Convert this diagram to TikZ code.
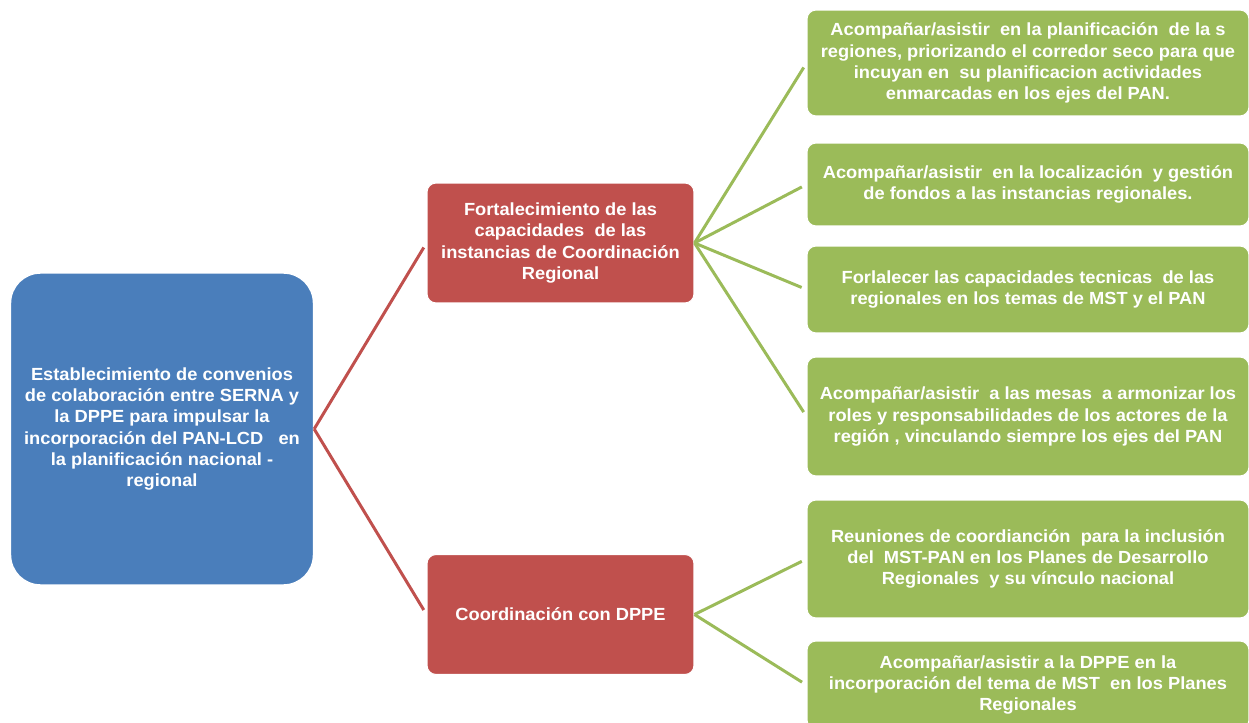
\documentclass[tikz,border=0pt]{standalone}
\usepackage{fontspec}
\setmainfont{Liberation Sans}[FakeStretch=1.04]
\definecolor{cGOAL}{HTML}{4A7EBB}
\definecolor{cLINE}{HTML}{C0504D}
\definecolor{cACT}{HTML}{9BBB59}
\tikzset{
  goalbox/.style={
    fill=cGOAL, draw=white, line width=0.8pt,
    rounded corners=0.6cm,
    text=white, align=center,
    minimum width=6.06cm, minimum height=6.24cm,
    font=\fontsize{10}{12}\selectfont\bfseries
  },
  linebox/.style={
    fill=cLINE, draw=white, line width=0.6pt,
    rounded corners=0.18cm,
    text=white, align=center,
    minimum width=5.34cm, minimum height=2.4cm,
    font=\fontsize{10}{12}\selectfont\bfseries
  },
  actbox/.style={
    fill=cACT, draw=white, line width=0.6pt,
    rounded corners=0.18cm,
    text=white, align=center,
    minimum width=8.84cm,
    font=\fontsize{10}{12}\selectfont\bfseries
  },
  redlink/.style={draw=cLINE, line width=1.7pt, shorten >=3pt},
  greenlink/.style={draw=cACT, line width=1.7pt, shorten >=3pt}
}

\begin{document}
\begin{tikzpicture}[x=0.02cm, y=-0.02cm]
  \useasboundingbox (0,0) rectangle (1249,723);

  \node[goalbox] (goal) at (162,429) {Establecimiento de convenios\\de colaboración entre SERNA y\\la DPPE para impulsar la\\incorporación del PAN-LCD\ \ \ en\\la planificación nacional -\\regional};

  \node[linebox] (fort) at (560.5,243) {Fortalecimiento de las\\capacidades\ \ de las\\instancias de Coordinación\\Regional};
  \node[linebox] (coord) at (560.5,614.5) {Coordinación con DPPE};

  \node[actbox, minimum height=2.12cm] (plan) at (1028,63) {Acompañar/asistir\ \ en la planificación\ \ de la s\\regiones, priorizando el corredor seco para que\\incuyan en\ \ su planificacion actividades\\enmarcadas en los ejes del PAN.};
  \node[actbox, minimum height=1.66cm] (fondos) at (1028,184.5) {Acompañar/asistir\ \ en la localización\ \ y gestión\\de fondos a las instancias regionales.};
  \node[actbox, minimum height=1.74cm] (tecn) at (1028,289.5) {Forlalecer las capacidades tecnicas\ \ de las\\regionales en los temas de MST y el PAN};
  \node[actbox, minimum height=2.38cm] (mesas) at (1028,416.5) {Acompañar/asistir\ \ a las mesas\ \ a armonizar los\\roles y responsabilidades de los actores de la\\región , vinculando siempre los ejes del PAN};
  \node[actbox, minimum height=2.36cm] (reun) at (1028,559) {Reuniones de coordianción\ \ para la inclusión\\del\ \ MST-PAN en los Planes de Desarrollo\\Regionales\ \ y su vínculo nacional};
  \node[actbox, minimum height=1.76cm] (dppe) at (1028,685) {Acompañar/asistir a la DPPE en la\\incorporación del tema de MST\ \ en los Planes\\Regionales};

  \draw[redlink] (goal.east) -- (fort.west);
  \draw[redlink] (goal.east) -- (coord.west);
  \foreach \n in {plan, fondos, tecn, mesas}
    \draw[greenlink] (fort.east) -- (\n.west);
  \foreach \n in {reun, dppe}
    \draw[greenlink] (coord.east) -- (\n.west);
\end{tikzpicture}
\end{document}
